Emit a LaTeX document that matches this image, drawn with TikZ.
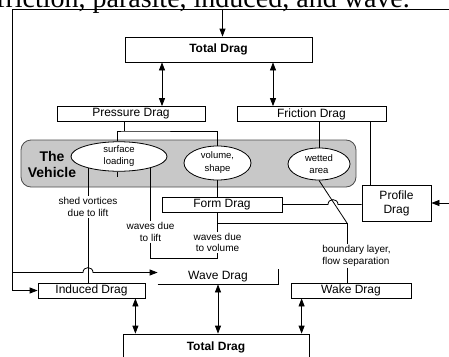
\documentclass[tikz,border=0pt]{standalone}
\usepackage{fontspec}
\setmainfont{Liberation Sans}
\newfontfamily\capfont{Liberation Serif}
\usetikzlibrary{positioning, arrows.meta, shapes.geometric, backgrounds}
\definecolor{vehiclegray}{HTML}{C8C8C8}

\begin{document}
\begin{tikzpicture}[x=1pt, y=-1pt,
    box/.style={rectangle, draw, fill=white, line width=0.8pt, inner sep=0pt, minimum height=15pt, align=center, font=\fontsize{12}{14}\selectfont},
    bigbox/.style={box, minimum height=25pt, font=\bfseries\fontsize{12}{14}\selectfont},
    blob/.style={ellipse, draw, fill=white, line width=0.8pt, inner sep=0pt, align=center, font=\fontsize{9.5}{12}\selectfont},
    note/.style={inner sep=1pt, align=center, font=\fontsize{10}{11.5}\selectfont},
    line/.style={line width=0.8pt},
    arr/.style={line, -{Triangle[length=8pt,width=6pt]}},
    darr/.style={line, {Triangle[length=8pt,width=6pt]}-{Triangle[length=8pt,width=6pt]}}]
  \useasboundingbox (0,0) rectangle (449,356);
  \clip (0,0) rectangle (449,356);

  % Caption line cut off by the scan
  \node[anchor=base west, inner sep=0pt, font=\capfont\fontsize{28}{30}\selectfont] (caption) at (-4,7) {friction, parasite, induced, and wave.};

  % Drag boxes
  \node[bigbox, minimum width=187pt] (tot1) at (218.5,49.5) {Total Drag};
  \node[box, minimum width=148pt] (pres) at (131,114) {Pressure Drag};
  \node[box, minimum width=149pt] (fric) at (311.5,114) {Friction Drag};
  \node[box, minimum width=120pt] (form) at (222,204.5) {Form Drag};
  \node[box, minimum width=69pt, minimum height=36pt] (prof) at (396.5,203) {Profile\\Drag};
  \node[box, draw=none, fill=none, minimum width=120pt] (wave) at (218,276.5) {Wave Drag};
  \node[box, minimum width=107pt] (ind) at (91.5,290.5) {Induced Drag};
  \node[box, minimum width=120pt] (wake) at (351,290.5) {Wake Drag};
  \node[bigbox, minimum width=186pt, minimum height=26pt] (tot2) at (216,347) {Total Drag};
  \draw[line] (wave.south west) -- (wave.south east) -- (wave.north east);

  % The vehicle
  \node[font=\bfseries\fontsize{14}{16}\selectfont, align=center, inner sep=0pt] (vehlbl) at (52,164) {The\\Vehicle};
  \node[blob, minimum width=96pt, minimum height=27pt] (surf) at (119,156.5) {surface\\loading};
  \node[blob, minimum width=67pt, minimum height=34pt] (vol) at (217.5,163) {volume,\\[1pt]shape};
  \node[blob, minimum width=62pt, minimum height=32pt] (wet) at (319,164) {wetted\\area};

  % Line labels
  \node[note] (lshed) at (88,207) {shed vortices\\due to lift};
  \node[note] (lwlift) at (150.5,232) {waves due\\to lift};
  \node[note] (lwvol) at (217.5,242.5) {waves due\\to volume};
  \node[note, align=left] (lbound) at (356.5,256) {boundary layer,\\flow separation};

  \begin{pgfonlayer}{background}
    \node[rounded corners=10pt, fill=vehiclegray, draw=black!70, line width=0.8pt, minimum width=335pt, minimum height=47pt] (veh) at (188.5,163.5) {};

    % Outer feed lines
    \coordinate (inR) at (449,9.5);
    \coordinate (fTL) at (12,9.5);
    \coordinate (fW) at (12,272.5);
    \coordinate (inP) at (449,203);
    \draw[arr] (inR) -- (fTL) -- (fTL |- ind.west) -- (ind.west);
    \draw[arr] ([xshift=4pt]tot1.north |- fTL) -- ([xshift=4pt]tot1.north);
    \draw[arr] (fW) -- (83,272.5) .. controls (83,266) and (93,266) .. (93,272.5) -- ([yshift=4pt]wave.west);
    \draw[arr] (inP) -- (prof.east);

    % Top level
    \draw[darr] ([xshift=31pt]pres.north |- tot1.south) -- ([xshift=31pt]pres.north);
    \draw[darr] ([xshift=-38.5pt]fric.north |- tot1.south) -- ([xshift=-38.5pt]fric.north);

    % Pressure and friction into the vehicle
    \coordinate (jP) at (124,131);
    \draw[line] (pres.south -| jP) -- (jP);
    \draw[line] ([xshift=-2pt]surf.north) |- (jP) -| (vol.north);
    \draw[line] ([xshift=-2pt]surf.south) -- ++(0,5);
    \draw[line] (fric.south -| wet.north) -- (wet.north);
    \draw[line] ([xshift=9pt]prof.north west |- fric.south) -- ([xshift=9pt]prof.north west);

    % Out of the vehicle
    \coordinate (jB) at (347,223);
    \coordinate (jW) at (217.5,258);
    \draw[line] (surf.center -| lshed) -- (lshed.north);
    \draw[line] (lshed.south) -- (lshed.south |- ind.north);
    \draw[line] (surf.center -| lwlift) -- (lwlift.north);
    \draw[line] (lwlift.south) |- (jW);
    \draw[line] (vol.south) -- (vol.south |- form.north);
    \draw[line] (form.east) -- (328,204.5) .. controls (328,198) and (338,198) .. (338,204.5) -- (prof.west |- form.east);
    \draw[line] (wet.south) -- (jB);
    \draw[line] (vol.south |- form.south) -- (lwvol.north);
    \draw[line] (vol.south |- jB) -- (jB) -- (jB |- lbound.north);
    \draw[line] (jB |- lbound.south) -- (jB |- wake.north);
    \draw[line] (lwvol.south) -- (jW);

    % Bottom level
    \draw[darr] ([xshift=-10pt]ind.south east) -- ([xshift=-10pt]ind.south east |- tot2.north);
    \draw[darr] (wave.south) -- (wave.south |- tot2.north);
    \draw[darr] ([xshift=11pt]wake.south west) -- ([xshift=11pt]wake.south west |- tot2.north);
  \end{pgfonlayer}
\end{tikzpicture}
\end{document}
